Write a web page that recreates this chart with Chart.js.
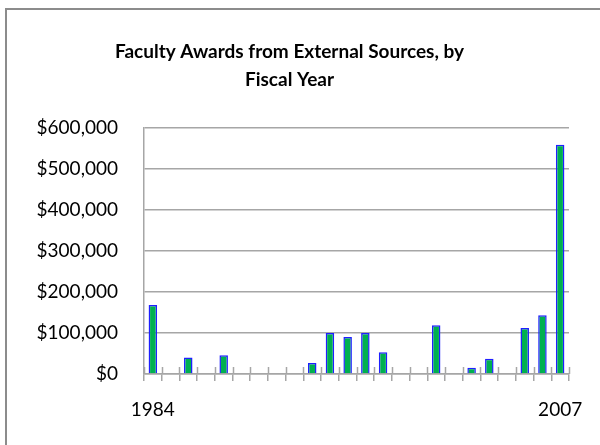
<!DOCTYPE html>
<html>
<head>
<meta charset="utf-8">
<script src="https://cdn.jsdelivr.net/npm/chart.js@4.4.1/dist/chart.umd.min.js"></script>
<style>
  html, body { margin: 0; padding: 0; background: #fff; overflow: hidden; }
  #frame { position: absolute; left: 5px; top: 8px; width: 620px; height: 460px; border: 2px solid #8c8c8c; box-sizing: border-box; }
  #wrap { position: absolute; left: 0; top: 0; width: 600px; height: 445px; }
</style>
</head>
<body>
<div id="frame"></div>
<div id="wrap"><canvas id="awardsChart"></canvas></div>
<script>
// fiscal years shown on the category axis
const years = [];
for (let y = 1984; y <= 2007; y++) years.push(String(y));

// award totals per year (null = no awards that year)
const awards = [168000, null, 40000, null, 46000, null, null, null, null, 27000,
                100000, 90000, 100000, 53000, null, null, 119000, null, 15000, 37000,
                null, 112000, 143000, 559000];

const shownYears = ['1984', '2007'];
const titleLines = ['Faculty Awards from External Sources, by', 'Fiscal Year'];

const axisGray = '#a6a6a6';

// little marks above the x axis so the category ticks cross it like Excel does
const crossTicks = {
    id: 'crossTicks',
    afterDatasetsDraw(chart) {
        const x = chart.scales.x, ctx = chart.ctx;
        const half = (x.getPixelForValue(1) - x.getPixelForValue(0)) / 2;
        ctx.save();
        ctx.strokeStyle = axisGray;
        ctx.lineWidth = 1.5;
        for (let i = 0; i <= years.length; i++) {
            const px = Math.round(x.getPixelForValue(i) - half) + 0.5;
            ctx.beginPath();
            ctx.moveTo(px, x.top - 7);
            ctx.lineTo(px, x.top);
            ctx.stroke();
        }
        ctx.restore();
    }
};

document.addEventListener("DOMContentLoaded", function () {
    const ctx = document.getElementById("awardsChart").getContext('2d');

    new Chart(ctx, {
        type: 'bar',
        data: {
            labels: years,
            datasets: [{
                label: 'Awards',
                data: awards,
                backgroundColor: '#00b050',
                borderColor: '#1f1fff',
                borderWidth: 1.5,
                barPercentage: 0.48,
                categoryPercentage: 1.0
            }]
        },
        plugins: [crossTicks],
        options: {
            responsive: true,
            maintainAspectRatio: false,
            animation: false,
            layout: { padding: { left: 10, right: 31, top: 24, bottom: 24 } },
            plugins: {
                legend: { display: false },
                tooltip: { enabled: false },
                title: {
                    display: true,
                    text: titleLines,
                    color: '#000',
                    font: { family: 'Lato', size: 19, weight: 'bold', lineHeight: 1.47 },
                    padding: { top: 14, bottom: 34 }
                }
            },
            scales: {
                x: {
                    offset: true,
                    afterFit: function (scale) { scale.height = 47; },
                    grid: {
                        offset: true,
                        drawOnChartArea: false,
                        drawTicks: true,
                        tickLength: 7,
                        color: axisGray,
                        lineWidth: 1.5
                    },
                    border: { color: axisGray, width: 1.5 },
                    ticks: {
                        autoSkip: false,
                        maxRotation: 0,
                        padding: 17,
                        color: '#000',
                        font: { family: 'Lato', size: 19 },
                        callback: function (value) {
                            const lab = this.getLabelForValue(value);
                            return shownYears.includes(lab) ? lab : '';
                        }
                    }
                },
                y: {
                    min: 0,
                    max: 600000,
                    afterFit: function (scale) { scale.width = 134; },
                    grid: { color: axisGray, lineWidth: 1.5, drawTicks: false },
                    border: { color: axisGray, width: 1.5 },
                    ticks: {
                        stepSize: 100000,
                        padding: 26,
                        color: '#000',
                        font: { family: 'Lato', size: 19 },
                        callback: function (v) { return '$' + v.toLocaleString('en-US'); }
                    }
                }
            }
        }
    });
});
</script>
</body>
</html>
